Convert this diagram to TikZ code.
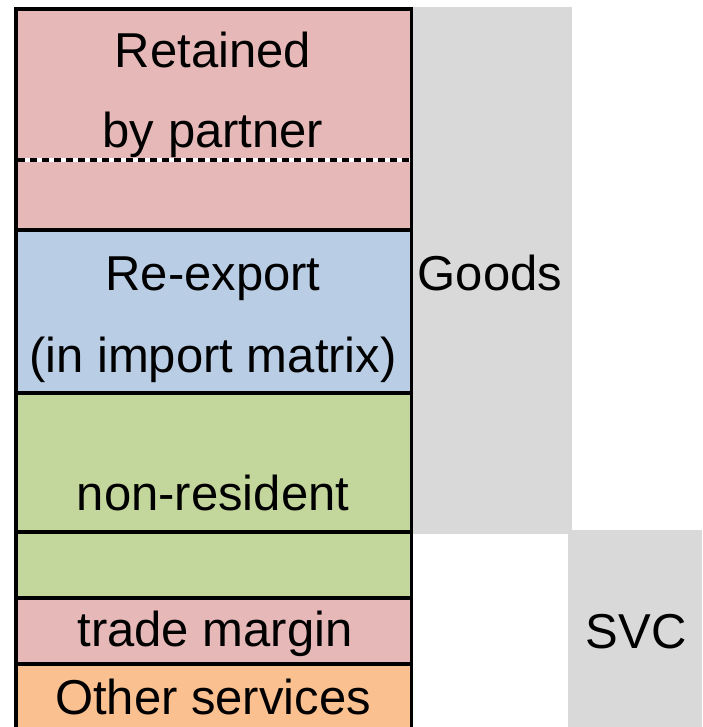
\documentclass[tikz,border=0pt]{standalone}
\usepackage{fontspec}
\setmainfont{Liberation Sans}
\usepackage{tikz}
\usetikzlibrary{positioning,calc}
\definecolor{cellpink}{HTML}{E6B9B8}
\definecolor{cellblue}{HTML}{B9CDE5}
\definecolor{cellgreen}{HTML}{C3D69B}
\definecolor{cellorange}{HTML}{FAC090}
\definecolor{bandgray}{HTML}{D9D9D9}
\tikzset{
    cell/.style={
        rectangle,
        draw=black,
        line width=3.5pt,
        inner sep=0pt,
        outer sep=0pt,
        anchor=north west,
        minimum width=395.5pt,
    },
    band/.style={
        rectangle,
        fill=bandgray,
        inner sep=0pt,
        outer sep=0pt,
        anchor=north west,
    },
    lbl/.style={
        font=\fontsize{49}{80}\selectfont,
        align=center,
        inner sep=0pt,
    },
}
\begin{document}
\begin{tikzpicture}[x=1pt,y=-1pt]
    \useasboundingbox (0,0) rectangle (702,727);
    \clip (0,0) rectangle (702,727);
    % grey bands
    \node [band, minimum width=160.5pt, minimum height=527pt] at (411.5,7) (goods) {};
    \node [band, minimum width=134pt, minimum height=197pt] at (568,530) (svc) {};
    % cells of the column
    \node [cell, fill=cellpink, minimum height=221pt] at (16,9) (retained) {};
    \node [cell, fill=cellblue, minimum height=163pt] at (16,230) (reexport) {};
    \node [cell, fill=cellgreen, minimum height=139pt] at (16,393) (nonres) {};
    \node [cell, fill=cellgreen, minimum height=66pt] at (16,532) (nonresb) {};
    \node [cell, fill=cellpink, minimum height=66pt] at (16,598) (margin) {};
    \node [cell, fill=cellorange, minimum height=100pt] at (16,664) (other) {};
    % split of the retained cell
    \coordinate (cut-l) at (18,160);
    \coordinate (cut-r) at (409.5,160);
    \draw [white, line width=4pt] (cut-l) -- (cut-r);
    \draw [black, line width=4pt, dash pattern=on 7pt off 5pt] (cut-l) -- (cut-r);
    % texts
    \node [lbl] at (213,95) (t-retained) {Retained\\by partner};
    \node [lbl, font=\fontsize{49}{82}\selectfont] at (213,320) (t-reexport) {Re-export\\(in import matrix)};
    \node [lbl] at (213,493) (t-nonres) {non-resident};
    \node [lbl] at (215,634) (t-margin) {trade margin};
    \node [lbl] at (213,697) (t-other) {Other services};
    \node [lbl] at (490,273) (t-goods) {Goods};
    \node [lbl] at (636,632) (t-svc) {SVC};
\end{tikzpicture}
\end{document}
